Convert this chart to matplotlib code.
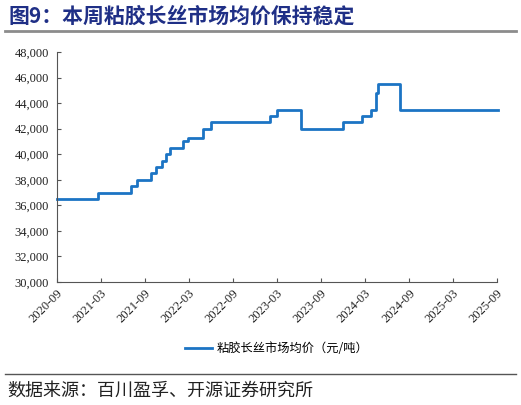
import matplotlib.pyplot as plt
import matplotlib.dates as mdates
import matplotlib.ticker as mticker
import pandas as pd

# step change points of the weekly average price (yuan/ton)
change_dates = ['2020-09-01', '2021-02-18', '2021-07-07', '2021-08-01',
                '2021-09-25', '2021-10-18', '2021-11-12', '2021-11-28',
                '2021-12-12', '2022-02-06', '2022-02-27', '2022-05-01',
                '2022-06-01', '2023-02-01', '2023-03-01', '2023-06-10',
                '2023-12-01', '2024-02-18', '2024-03-28', '2024-04-15',
                '2024-04-24', '2024-07-24', '2025-09-05']
prices = [36500, 37000, 37500, 38000, 38500, 39000, 39500, 40000,
          40500, 41000, 41300, 42000, 42500, 43000, 43500, 42000,
          42500, 43000, 43500, 44800, 45500, 43500, 43500]
tick_months = ['2020-09', '2021-03', '2021-09', '2022-03', '2022-09', '2023-03',
               '2023-09', '2024-03', '2024-09', '2025-03', '2025-09']

cjk = ['Noto Sans CJK SC', 'DejaVu Sans']
plt.rcParams['font.family'] = ['Liberation Serif', 'DejaVu Serif']

dates = pd.to_datetime(change_dates)
ticks = pd.to_datetime(tick_months)

fig = plt.figure(figsize=(5.21, 4.05), dpi=100)
ax = fig.add_axes([57 / 521, 1 - 282 / 405, 440 / 521, 230 / 405])

ax.plot(dates, prices, drawstyle='steps-post', color='#1c74c4', lw=2,
        label='粘胶长丝市场均价（元/吨）', clip_on=False)

ax.set_xlim(ticks[0], ticks[-1])
ax.set_ylim(30000, 48000)
ax.set_xticks(ticks)
ax.xaxis.set_major_formatter(mdates.DateFormatter('%Y-%m'))
ax.yaxis.set_major_locator(mticker.MultipleLocator(2000))
ax.yaxis.set_major_formatter(mticker.StrMethodFormatter('{x:,.0f}'))
ax.tick_params(direction='in', length=3, color='#555555', labelsize=9,
               labelcolor='#222222')
ax.tick_params(axis='x', pad=4, labelrotation=45)
ax.tick_params(axis='y', pad=6)
for lab in ax.get_xticklabels():
    lab.set_ha('right')
    lab.set_rotation_mode('anchor')
for side in ['top', 'right']:
    ax.spines[side].set_visible(False)
for side in ['left', 'bottom']:
    ax.spines[side].set_color('#555555')

ax.legend(loc='center', bbox_to_anchor=(0.5, -0.29), frameon=False,
          prop={'family': cjk, 'size': 8.8}, handlelength=2.2,
          handletextpad=0.4)

fig.text(8 / 521, 1 - 16 / 405, '图9：本周粘胶长丝市场均价保持稳定', family=cjk,
         fontsize=15, fontweight='bold', color='#1f2f86', va='center')
fig.add_artist(plt.Line2D([5 / 521, 516 / 521], [1 - 31 / 405] * 2,
                          color='#8c8c8c', lw=2))
fig.add_artist(plt.Line2D([5 / 521, 516 / 521], [1 - 374 / 405] * 2,
                          color='#555555', lw=1))
fig.text(7 / 521, 1 - 391 / 405, '数据来源：百川盈孚、开源证券研究所', family=cjk,
         fontsize=13, color='#222222', va='center')

fig.savefig('out.png', dpi=100)
